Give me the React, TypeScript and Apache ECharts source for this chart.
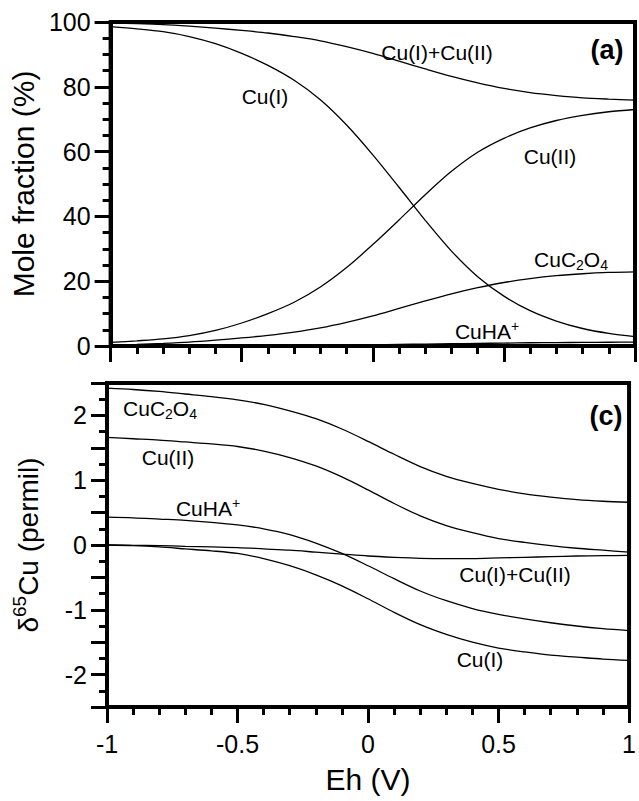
import React, { useEffect, useRef } from "react";
import * as echarts from "echarts";

const FONT = '"Liberation Sans", Arial, Helvetica, sans-serif';

// Eh (V) sample positions
const eh = [-1, -0.9, -0.8, -0.7, -0.6, -0.5, -0.4, -0.3, -0.2, -0.1, 0, 0.1, 0.2, 0.3, 0.4, 0.5, 0.6, 0.7, 0.8, 0.9, 1];

// Panel (a): mole fraction (%)
const fracCuI = [98.6, 97.9, 97.0, 95.5, 93.3, 90.3, 86.6, 82.0, 76.0, 68.2, 59.0, 49.0, 38.8, 29.3, 21.4, 15.4, 10.9, 7.7, 5.4, 3.9, 2.9];
const fracCuII = [1.1, 1.6, 2.2, 3.2, 4.8, 7.1, 10.0, 13.5, 18.2, 24.2, 31.3, 38.9, 46.7, 53.9, 59.8, 64.1, 67.3, 69.6, 71.2, 72.3, 73.0];
const fracTotal = [99.7, 99.5, 99.2, 98.7, 98.1, 97.4, 96.6, 95.5, 94.2, 92.4, 90.3, 87.9, 85.5, 83.2, 81.2, 79.5, 78.2, 77.3, 76.6, 76.2, 75.9];
const fracCuC2O4 = [0.3, 0.5, 0.8, 1.2, 1.8, 2.5, 3.3, 4.3, 5.6, 7.3, 9.3, 11.6, 13.9, 16.1, 18.0, 19.6, 20.8, 21.7, 22.3, 22.7, 22.9];
const fracCuHA = [0.02, 0.03, 0.04, 0.06, 0.08, 0.1, 0.13, 0.17, 0.22, 0.3, 0.4, 0.5, 0.6, 0.7, 0.8, 0.9, 1.0, 1.05, 1.1, 1.15, 1.2];

// Panel (c): delta65Cu (permil)
const dCuC2O4 = [2.42, 2.4, 2.37, 2.33, 2.29, 2.24, 2.17, 2.07, 1.95, 1.79, 1.6, 1.4, 1.21, 1.06, 0.95, 0.86, 0.79, 0.74, 0.7, 0.675, 0.66];
const dCuII = [1.66, 1.64, 1.62, 1.59, 1.56, 1.52, 1.45, 1.35, 1.22, 1.05, 0.85, 0.64, 0.45, 0.3, 0.19, 0.1, 0.04, -0.01, -0.05, -0.08, -0.11];
const dCuHA = [0.43, 0.42, 0.4, 0.38, 0.35, 0.31, 0.25, 0.16, 0.03, -0.13, -0.32, -0.52, -0.71, -0.86, -0.98, -1.07, -1.14, -1.2, -1.25, -1.29, -1.32];
const dTotal = [0, -0.005, -0.01, -0.02, -0.03, -0.04, -0.06, -0.08, -0.11, -0.14, -0.17, -0.19, -0.205, -0.21, -0.21, -0.2, -0.19, -0.18, -0.17, -0.165, -0.16];
const dCuI = [0, -0.01, -0.03, -0.06, -0.09, -0.13, -0.21, -0.32, -0.46, -0.63, -0.83, -1.04, -1.23, -1.38, -1.5, -1.59, -1.65, -1.7, -1.73, -1.76, -1.78];

const xTicksMajor = 0.5;
const yTopInterval = 20;
const yBotInterval = 0.5;

const pairs = (ys: number[]) => eh.map((x, i) => [x, ys[i]]);

const line = (name: string, ys: number[], gi: number) => ({
  type: "line",
  name,
  xAxisIndex: gi,
  yAxisIndex: gi,
  data: pairs(ys),
  showSymbol: false,
  smooth: 0.3,
  lineStyle: { color: "#000", width: 1.3 },
  silent: true,
});

const richLbl = {
  n: { fontSize: 21, fontFamily: FONT, fill: "#000", padding: [2, 0, 2, 0] },
  sub: { fontSize: 14, fontFamily: FONT, fill: "#000", verticalAlign: "bottom" },
  sup: { fontSize: 14, fontFamily: FONT, fill: "#000", verticalAlign: "top" },
};

const lbl = (text: string, x: number, y: number) => ({
  type: "text",
  x,
  y,
  silent: true,
  style: {
    text,
    rich: richLbl,
    fontSize: 21,
    fontFamily: FONT,
    fill: "#000",
    align: "center",
    verticalAlign: "middle",
  },
});

const panelLbl = (text: string, x: number, y: number) => ({
  type: "text",
  x,
  y,
  silent: true,
  style: {
    text,
    fontSize: 27,
    fontWeight: "bold",
    fontFamily: FONT,
    fill: "#000",
    align: "center",
    verticalAlign: "middle",
  },
});

const axisCommon = {
  axisLine: { show: true, onZero: false, lineStyle: { color: "#000", width: 4 } },
  axisTick: { show: true, length: 16, lineStyle: { color: "#000", width: 3 } },
  splitLine: { show: false },
};

export default function App() {
  const ref = useRef<HTMLDivElement>(null);
  useEffect(() => {
    if (!ref.current) return;
    const chart = echarts.init(ref.current, undefined, { renderer: "svg" });
    const option: any = {
      animation: false,
      backgroundColor: "#fff",
      grid: [
        { left: 107, top: 22, width: 528, height: 324, show: true, borderColor: "#000", borderWidth: 4, backgroundColor: "transparent" },
        { left: 107, top: 383, width: 528, height: 324, show: true, borderColor: "#000", borderWidth: 4, backgroundColor: "transparent" },
      ],
      xAxis: [
        {
          gridIndex: 0,
          type: "value",
          min: -1,
          max: 1,
          interval: xTicksMajor,
          ...axisCommon,
          minorTick: { show: true, splitNumber: 5, length: 8, lineStyle: { color: "#000", width: 3 } },
          axisLabel: { show: false },
        },
        {
          gridIndex: 1,
          type: "value",
          min: -1,
          max: 1,
          interval: xTicksMajor,
          ...axisCommon,
          minorTick: { show: true, splitNumber: 5, length: 8, lineStyle: { color: "#000", width: 3 } },
          axisLabel: { show: true, fontSize: 25, margin: 24, color: "#000", fontFamily: FONT },
          name: "Eh (V)",
          nameLocation: "middle",
          nameGap: 57,
          nameTextStyle: { fontSize: 30, color: "#000", fontFamily: FONT },
        },
      ],
      yAxis: [
        {
          gridIndex: 0,
          type: "value",
          min: 0,
          max: 100,
          interval: yTopInterval,
          ...axisCommon,
          minorTick: { show: true, splitNumber: 4, length: 8, lineStyle: { color: "#000", width: 3 } },
          axisLabel: { show: true, fontSize: 25, margin: 20, color: "#000", fontFamily: FONT },
          name: "Mole fraction (%)",
          nameLocation: "middle",
          nameGap: 65,
          nameTextStyle: { fontSize: 30, color: "#000", fontFamily: FONT },
        },
        {
          gridIndex: 1,
          type: "value",
          min: -2.5,
          max: 2.5,
          interval: yBotInterval,
          ...axisCommon,
          minorTick: { show: true, splitNumber: 2, length: 8, lineStyle: { color: "#000", width: 3 } },
          axisLabel: {
            show: true,
            fontSize: 25,
            margin: 20,
            color: "#000",
            fontFamily: FONT,
            formatter: (v: number) => (Math.abs(v - Math.round(v)) < 1e-9 ? String(Math.round(v)) : ""),
          },
          name: "{n|δ}{s|65}{n|Cu (permil)}",
          nameLocation: "middle",
          nameGap: 65,
          nameTextStyle: {
            fontSize: 28,
            color: "#000",
            fontFamily: FONT,
            rich: {
              n: { fontSize: 28, color: "#000", fontFamily: FONT, padding: [4, 0, 0, 0] },
              s: { fontSize: 19, color: "#000", fontFamily: FONT, verticalAlign: "top" },
            },
          },
        },
      ],
      series: [
        line("Cu(I)", fracCuI, 0),
        line("Cu(II)", fracCuII, 0),
        line("Cu(I)+Cu(II)", fracTotal, 0),
        line("CuC2O4", fracCuC2O4, 0),
        line("CuHA+", fracCuHA, 0),
        line("CuC2O4 d", dCuC2O4, 1),
        line("Cu(II) d", dCuII, 1),
        line("CuHA+ d", dCuHA, 1),
        line("Cu(I)+Cu(II) d", dTotal, 1),
        line("Cu(I) d", dCuI, 1),
      ],
      graphic: [
        lbl("{n|Cu(I)+Cu(II)}", 437, 52),
        lbl("{n|Cu(I)}", 265, 96),
        lbl("{n|Cu(II)}", 550, 156),
        lbl("{n|CuC}{sub|2}{n|O}{sub|4}", 571, 259),
        lbl("{n|CuHA}{sup|+}", 487, 331),
        panelLbl("(a)", 607, 50),
        lbl("{n|CuC}{sub|2}{n|O}{sub|4}", 160, 408),
        lbl("{n|Cu(II)}", 168, 457),
        lbl("{n|CuHA}{sup|+}", 208, 508),
        lbl("{n|Cu(I)+Cu(II)}", 515, 574),
        lbl("{n|Cu(I)}", 480, 659),
        panelLbl("(c)", 606, 416),
      ],
    };
    chart.setOption(option);
    return () => chart.dispose();
  }, []);
  return (
    <div
      ref={ref}
      style={{ position: "fixed", left: 0, top: 0, width: 639, height: 801, background: "#fff" }}
    />
  );
}
